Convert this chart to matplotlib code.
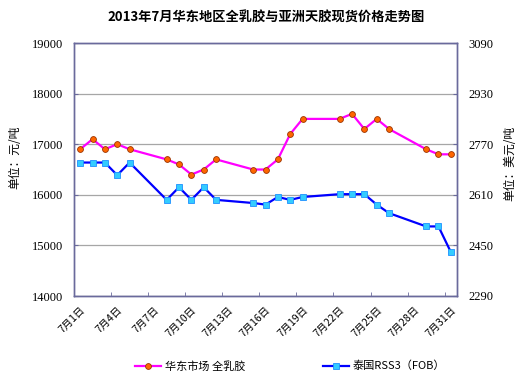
import matplotlib
matplotlib.use("Agg")
import matplotlib.pyplot as plt
from matplotlib.ticker import FixedLocator
import numpy as np

plt.rcParams['font.family'] = ['Noto Sans CJK SC', 'DejaVu Sans']

# Data
days = [1, 2, 3, 4, 5, 8, 9, 10, 11, 12, 15, 16, 17, 18, 19, 22, 23, 24, 25, 26, 29, 30, 31]
east_china_latex = [16900, 17100, 16900, 17000, 16900, 16700, 16600, 16400, 16500, 16700,
                    16500, 16500, 16700, 17200, 17500, 17500, 17600, 17300, 17500, 17300,
                    16900, 16800, 16800]
thai_rss3 = [2712, 2712, 2712, 2672, 2712, 2594, 2634, 2594, 2634, 2594,
             2584, 2579, 2603, 2594, 2603, 2612, 2612, 2612, 2579, 2552,
             2510, 2510, 2429]
label_days = [1, 4, 7, 10, 13, 16, 19, 22, 25, 28, 31]
x_labels = [f"7月{d}日" for d in label_days]
left_ticks = [14000, 15000, 16000, 17000, 18000, 19000]
right_ticks = [2290, 2450, 2610, 2770, 2930, 3090]
title = "2013年7月华东地区全乳胶与亚洲天胶现货价格走势图"
series_names = ["华东市场 全乳胶", "泰国RSS3（FOB）"]

fig = plt.figure(figsize=(5.28, 3.87), dpi=100)
ax = fig.add_axes([74/528, 1-296/387, (457-74)/528, (296-43)/387])
ax2 = ax.twinx()

spine_c = '#6A6A9C'
grid_c = '#A6A6A6'

l1, = ax.plot(days, east_china_latex, color='#FF00FF', lw=1.6, marker='o', ms=4.2,
              mfc='#FF6600', mec='#993300', mew=0.6, zorder=3)
l2, = ax2.plot(days, thai_rss3, color='#0000FF', lw=1.6, marker='s', ms=3.8,
               mfc='#33CCFF', mec='#1E90FF', mew=0.6, zorder=3)

ax.set_xlim(0.5, 31.5)
ax.set_ylim(14000, 19000)
ax2.set_ylim(2290, 3090)
ax.set_yticks(left_ticks)
ax2.set_yticks(right_ticks)
ax.yaxis.grid(True, color=grid_c, lw=0.9)
ax.set_axisbelow(True)

ax.set_xticks(label_days)
ax.set_xticklabels(x_labels, rotation=45, ha='right', rotation_mode='anchor', fontsize=7.5)
ax.xaxis.set_minor_locator(FixedLocator(np.arange(3.5, 31, 3)))
ax.tick_params(axis='x', which='major', length=0, pad=6)
ax.tick_params(axis='x', which='minor', direction='in', length=3, color=spine_c)
ax.tick_params(axis='y', direction='in', length=3, color=spine_c, labelsize=9, pad=8)
ax2.tick_params(axis='y', direction='in', length=3, color=spine_c, labelsize=9, pad=8)

for lab in ax.get_yticklabels() + ax2.get_yticklabels():
    lab.set_family(['Liberation Serif'])

for a in (ax, ax2):
    for s in a.spines.values():
        s.set_color(spine_c)
        s.set_linewidth(1.0)

fig.text(15/528, 1-157/387, "单位：元/吨", rotation=90, ha='center', va='center', fontsize=8.5)
fig.text(510/528, 1-163/387, "单位：美元/吨", rotation=90, ha='center', va='center', fontsize=8.5)
fig.text(266/528, 1-18/387, title, ha='center', va='center', fontsize=9.5, fontweight='bold')

fig.legend([l1, l2], series_names, loc='center', bbox_to_anchor=(290/528, 1-366/387),
           ncol=2, frameon=False, fontsize=8, columnspacing=7, handlelength=2.4,
           handletextpad=0.3)

fig.savefig("out.png", dpi=100)
